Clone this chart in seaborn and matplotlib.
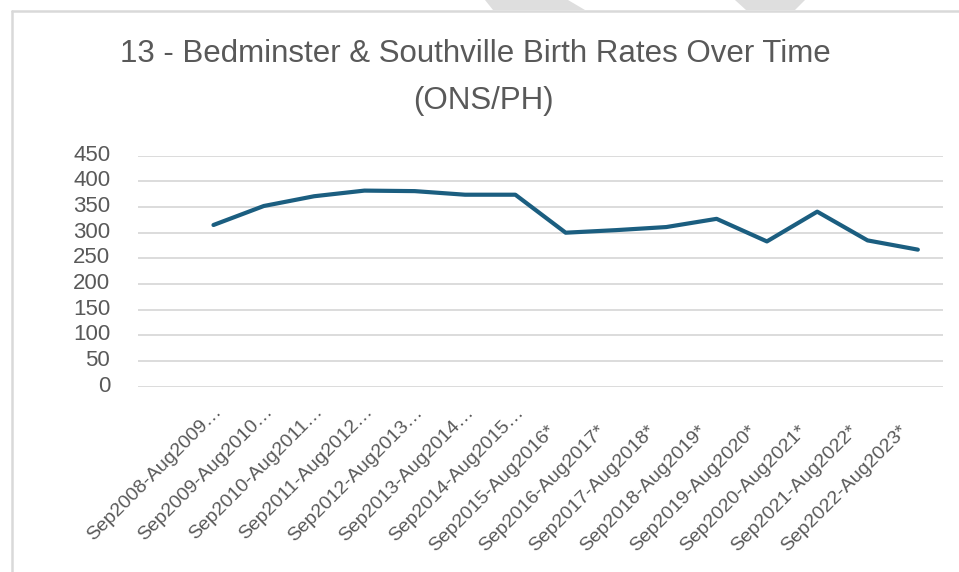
import matplotlib
matplotlib.use("Agg")
import matplotlib.pyplot as plt
from matplotlib import font_manager
from matplotlib.patches import Polygon
from matplotlib.lines import Line2D
from matplotlib.transforms import ScaledTranslation
import seaborn as sns
import pandas as pd
import numpy as np

# Academic years (Sep-Aug) and births recorded in each
periods = [
    "Sep2008-Aug2009…", "Sep2009-Aug2010…", "Sep2010-Aug2011…",
    "Sep2011-Aug2012…", "Sep2012-Aug2013…", "Sep2013-Aug2014…",
    "Sep2014-Aug2015…", "Sep2015-Aug2016*", "Sep2016-Aug2017*",
    "Sep2017-Aug2018*", "Sep2018-Aug2019*", "Sep2019-Aug2020*",
    "Sep2020-Aug2021*", "Sep2021-Aug2022*", "Sep2022-Aug2023*",
]
births = [315, 352, 371, 382, 381, 374, 374, 300, 305, 311, 327, 283, 341, 285, 267]
y_ticks = [0, 50, 100, 150, 200, 250, 300, 350, 400, 450]

title_lines = ["13 - Bedminster & Southville Birth Rates Over Time", "(ONS/PH)"]

sns.set_theme(style="white")
names = {f.name for f in font_manager.fontManager.ttflist}
narrow = "Liberation Sans Narrow" if "Liberation Sans Narrow" in names else "Liberation Sans"
plt.rcParams["font.family"] = [narrow, "DejaVu Sans"]

TEXT = "#595959"
GRID = "#d9d9d9"
LINE = "#1b5e80"

W, H = 959, 572
fig = plt.figure(figsize=(W / 100, H / 100), dpi=100)
fig.patch.set_facecolor("white")

# chart area frame (top and left edges visible)
fig.add_artist(Line2D([12 / W, 1.0], [1 - 11 / H, 1 - 11 / H], color=GRID, lw=1.8,
                      transform=fig.transFigure))
fig.add_artist(Line2D([12 / W, 12 / W], [1 - 11 / H, 0.0], color=GRID, lw=1.8,
                      transform=fig.transFigure))
# light grey shapes peeking above the frame
for pts in ([(485, 0), (568, 0), (585, 10), (493, 10)],
            [(735, 0), (805, 0), (795, 10), (746, 10)]):
    fig.add_artist(Polygon([(x / W, 1 - y / H) for x, y in pts], closed=True,
                           facecolor="#dedede", edgecolor="none",
                           transform=fig.transFigure))

left, right, top, bottom = 138, 943, 155.7, 386.7
ax = fig.add_axes([left / W, 1 - bottom / H, (right - left) / W, (bottom - top) / H])

df = pd.DataFrame({"pos": np.arange(len(periods)), "births": births})
sns.lineplot(data=df, x="pos", y="births", ax=ax, color=LINE, linewidth=3.0,
             solid_joinstyle="round", solid_capstyle="round", zorder=3)

ax.set_xlim(-1.5, len(periods) - 0.5)
ax.set_ylim(0, 450)
ax.set_yticks(y_ticks)
ax.set_yticklabels([str(v) for v in y_ticks])
ax.set_xticks(np.arange(len(periods)))
ax.set_xticklabels(periods, rotation=45, ha="right", va="top", rotation_mode="anchor")
ax.set_xlabel("")
ax.set_ylabel("")
ax.yaxis.grid(True, color=GRID, linewidth=1.3)
ax.xaxis.grid(False)
for s in ax.spines.values():
    s.set_visible(False)
ax.tick_params(axis="y", length=0, pad=20, labelsize=16, labelcolor=TEXT)
ax.tick_params(axis="x", length=0, pad=12, labelsize=14, labelcolor=TEXT)

# value labels sit slightly above their gridlines
for lab in ax.get_yticklabels():
    lab.set_transform(lab.get_transform() + ScaledTranslation(0, 0.03, fig.dpi_scale_trans))
# complete period names sit a little lower/left than the truncated ones
for lab in ax.get_xticklabels():
    if lab.get_text().endswith("*"):
        lab.set_transform(lab.get_transform()
                          + ScaledTranslation(-0.19, -0.19, fig.dpi_scale_trans))

fig.text(475 / W, 1 - 54 / H, title_lines[0], ha="center", va="center",
         fontsize=22.5, color=TEXT)
fig.text(483 / W, 1 - 101 / H, title_lines[1], ha="center", va="center",
         fontsize=22.5, color=TEXT)

fig.savefig("out.png", dpi=100, facecolor="white")
